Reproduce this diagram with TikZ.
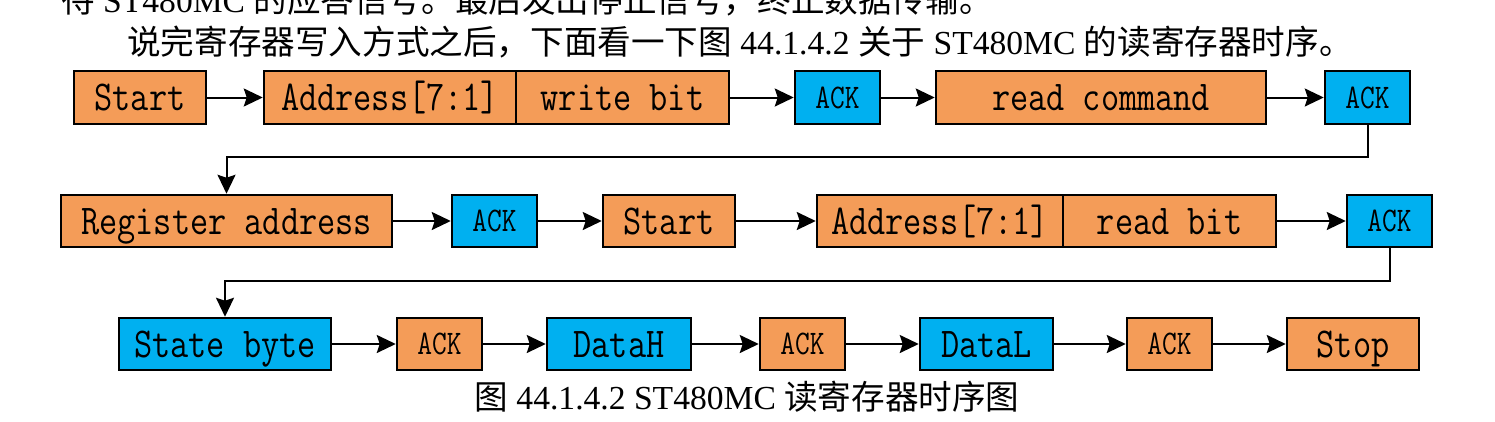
\documentclass[tikz,border=0pt]{standalone}
\usepackage{fontspec}
\usepackage{graphicx}
\setmainfont{Liberation Serif}
\newfontfamily\cjk{Noto Sans CJK SC}
\usetikzlibrary{arrows.meta}
\definecolor{boxorange}{RGB}{244,156,88}
\definecolor{boxblue}{RGB}{0,176,240}
\newcommand{\hs}[1]{\scalebox{0.83}[1]{#1}}
\begin{document}
\begin{tikzpicture}[x=1pt,y=-1pt,
  box/.style={draw=black, line width=2.5pt, minimum height=52pt, inner sep=0pt,
    font=\ttfamily\fontsize{42.5}{42.5}\selectfont, text height=26pt, text depth=0pt, anchor=center},
  obox/.style={box, fill=boxorange},
  bbox/.style={box, fill=boxblue},
  ack/.style={font=\ttfamily\fontsize{34.5}{34.5}\selectfont, text height=21pt, text depth=0pt, minimum width=85pt},
  arr/.style={-{Stealth[length=19pt,width=18pt,inset=3pt]}, line width=2pt},
  txt/.style={inner sep=0pt, font=\fontsize{33.6}{40}\selectfont}
]
\useasboundingbox (0,0) rectangle (1495,421);

% texts
\node[txt, anchor=base west] (t1) at (61,12.5) {{\cjk 待} ST480MC {\cjk 的应答信号。最后发出停止信号，终止数据传输。}};
\node[txt, anchor=base west] (t2) at (127,54.5) {{\cjk 说完寄存器写入方式之后，下面看一下图} 44.1.4.2 {\cjk 关于} ST480MC {\cjk 的读寄存器时序。}};
\node[txt, anchor=base] (cap) at (747,409) {{\cjk 图} 44.1.4.2 ST480MC {\cjk 读寄存器时序图}};

% row 1
\node[obox, minimum width=132pt, minimum height=53pt] (s1) at (140,97.5) {\hs{Start}};
\node[obox, minimum width=252pt, minimum height=53pt] (a1) at (390,97.5) {\hs{Address[7:1]}};
\node[obox, minimum width=213pt, minimum height=53pt] (w1) at (622.5,97.5) {\hs{write bit}};
\node[bbox, ack, minimum height=53pt] (k1) at (837.5,97.5) {\hs{ACK}};
\node[obox, minimum width=330pt, minimum height=53pt] (r1) at (1101,97.5) {\hs{read command}};
\node[bbox, ack, minimum height=53pt] (k2) at (1367.5,97.5) {\hs{ACK}};

% row 2
\node[obox, minimum width=331pt] (ra) at (226.5,221) {\hs{Register address}};
\node[bbox, ack] (k3) at (494.5,221) {\hs{ACK}};
\node[obox, minimum width=132pt] (s2) at (669,221) {\hs{Start}};
\node[obox, minimum width=246pt] (a2) at (940,221) {\hs{Address[7:1]}};
\node[obox, minimum width=213pt] (rb) at (1169.5,221) {\hs{read bit}};
\node[bbox, ack] (k4) at (1389.5,221) {\hs{ACK}};

% row 3
\node[bbox, minimum width=212pt] (sb) at (225,344) {\hs{State byte}};
\node[obox, ack] (k5) at (439.5,344) {\hs{ACK}};
\node[bbox, minimum width=144pt] (dh) at (619,344) {\hs{DataH}};
\node[obox, ack] (k6) at (802.5,344) {\hs{ACK}};
\node[bbox, minimum width=133pt] (dl) at (986.5,344) {\hs{DataL}};
\node[obox, ack] (k7) at (1169.5,344) {\hs{ACK}};
\node[obox, minimum width=132pt] (st) at (1353,344) {\hs{Stop}};

% arrows row 1
\draw[arr] (s1) -- (a1);
\draw[arr] (w1) -- (k1);
\draw[arr] (k1) -- (r1);
\draw[arr] (r1) -- (k2);
% wrap 1
\coordinate (b1) at (1367.5,157);
\draw[arr] (k2.south) -- (b1) -| (ra.north);
% arrows row 2
\draw[arr] (ra) -- (k3);
\draw[arr] (k3) -- (s2);
\draw[arr] (s2) -- (a2);
\draw[arr] (rb) -- (k4);
% wrap 2
\coordinate (b2) at (1389.5,281);
\draw[arr] (k4.south) -- (b2) -| (sb.north);
% arrows row 3
\draw[arr] (sb) -- (k5);
\draw[arr] (k5) -- (dh);
\draw[arr] (dh) -- (k6);
\draw[arr] (k6) -- (dl);
\draw[arr] (dl) -- (k7);
\draw[arr] (k7) -- (st);
\end{tikzpicture}
\end{document}
